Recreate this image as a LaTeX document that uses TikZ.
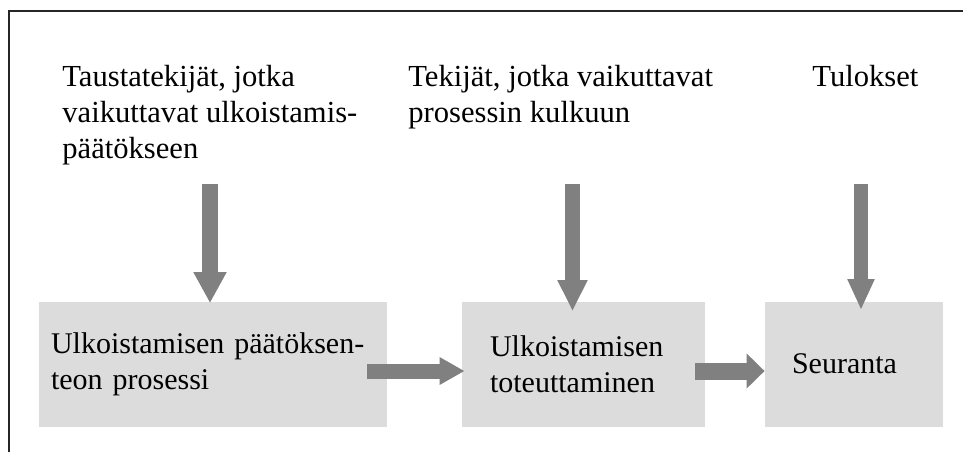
\documentclass[tikz,border=0pt]{standalone}
\usepackage{fontspec}
\setmainfont{Liberation Serif}
\usetikzlibrary{arrows.meta, positioning, calc}

\definecolor{boxgray}{RGB}{220,220,220}
\definecolor{arrowgray}{RGB}{128,128,128}

\begin{document}
\begin{tikzpicture}[
    x=0.5pt, y=-0.5pt,
    factor/.style={inner sep=0pt, anchor=base west, align=left, font=\fontsize{15.3}{18}\selectfont},
    stage/.style={rectangle, fill=boxgray, draw=none, inner ysep=0pt, minimum height=62.5pt, align=left, font=\fontsize{15}{18}\selectfont},
    bigarrow/.style={draw=arrowgray, line width=7.5pt, -{Triangle[length=15.5pt, width=14pt]}}
]
\useasboundingbox (0,0) rectangle (963,452);

% Frame
\draw[line width=1pt, black!85] (8.5,452) -- (8.5,11) -- (963,11);

% Factors on top (placed at the baseline of their last line)
\node[factor] at (62,158) (t1) {Taustatekijät, jotka\\vaikuttavat ulkoistamis-\\päätökseen};
\node[factor] at (408,122) (t2) {Tekijät, jotka vaikuttavat\\prosessin kulkuun};
\node[factor] at (812,86) (t3) {Tulokset};

% Stages
\node[stage, inner xsep=6pt, text width=162pt] at (213,364) (b1) {Ulkoistamisen päätöksen-\\teon prosessi};
\node[stage, inner xsep=14pt, text width=93.5pt] at (583.5,364) (b2) {Ulkoistamisen\\toteuttaminen};
\node[stage, inner xsep=13.5pt, text width=62pt] at (854,364) (b3) {Seuranta};

% Arrow starts
\coordinate (a1) at (210,184);
\coordinate (a2) at (572.5,184);
\coordinate (a3) at (861,184);

% Down arrows
\draw[bigarrow, line width=8pt, -{Triangle[length=15.5pt, width=15.5pt]}] (a1) -- ($(a1 |- b1.north)+(0,2)$);
\draw[bigarrow] (a2) -- ($(a2 |- b2.north)+(0,10)$);
\draw[bigarrow, line width=7pt, -{Triangle[length=15.5pt, width=12.5pt]}] (a3) -- ($(a3 |- b3.north)+(0,9)$);

% Right arrows
\draw[bigarrow, -{Triangle[length=12.5pt, width=13pt]}] ($(b1.east)+(-20,7)$) -- ($(b2.west)+(3,7)$);
\draw[bigarrow, line width=8.5pt, -{Triangle[length=9pt, width=17pt]}] ($(b2.east)+(-10,7)$) -- ($(b3.west)+(0,7)$);

\end{tikzpicture}
\end{document}
